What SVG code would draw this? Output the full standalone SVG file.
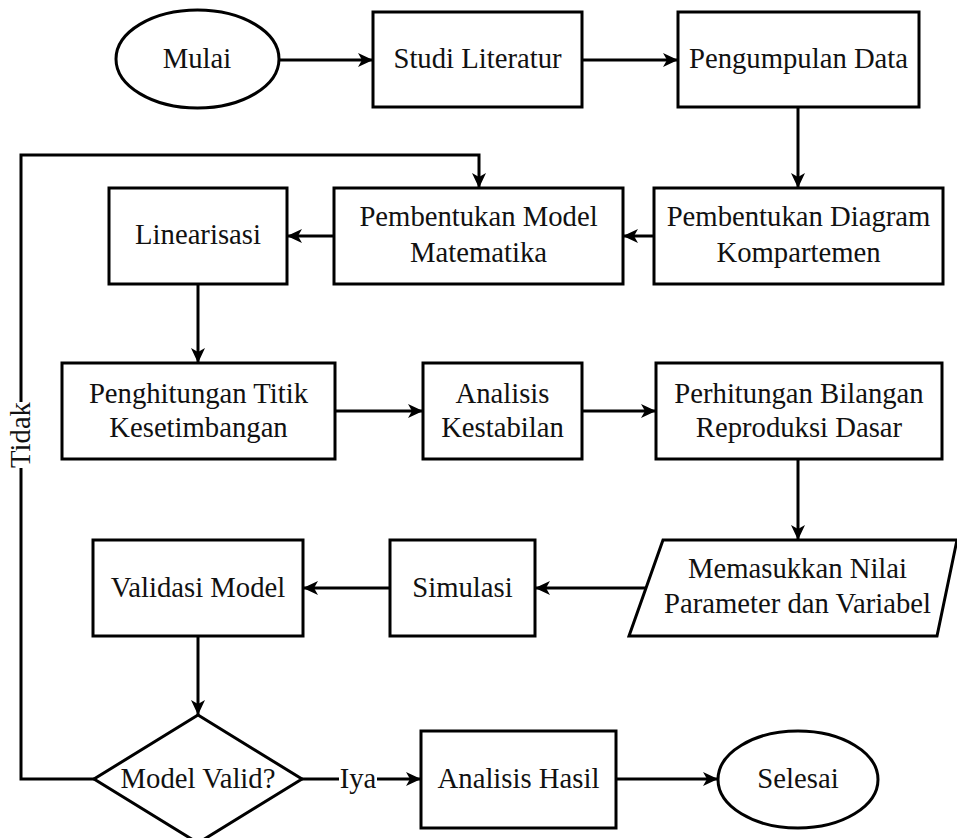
<svg xmlns="http://www.w3.org/2000/svg" width="957" height="838" viewBox="0 0 957 838">
<style>
.n{fill:#fff;stroke:#000;stroke-width:3}
.t{font-family:"Liberation Serif","Times New Roman",serif;font-size:28.7px;fill:#111;text-anchor:middle}
.c{fill:none;stroke:#000;stroke-width:3}
</style>
<defs>
<marker id="a" markerUnits="userSpaceOnUse" markerWidth="16" markerHeight="14" refX="15" refY="7" orient="auto">
<path d="M0,0 L15,7 L0,14 L4,7 Z" fill="#000"/>
</marker>
</defs>
<rect width="957" height="838" fill="#fff"/>
<g id="connectors">
<line class="c" x1="279" y1="60" x2="373" y2="60" marker-end="url(#a)"/>
<line class="c" x1="582" y1="60" x2="678" y2="60" marker-end="url(#a)"/>
<line class="c" x1="798" y1="107" x2="798" y2="188" marker-end="url(#a)"/>
<line class="c" x1="654" y1="236" x2="623" y2="236" marker-end="url(#a)"/>
<line class="c" x1="334" y1="236" x2="287" y2="236" marker-end="url(#a)"/>
<line class="c" x1="198" y1="284" x2="198" y2="363" marker-end="url(#a)"/>
<line class="c" x1="335" y1="411" x2="423" y2="411" marker-end="url(#a)"/>
<line class="c" x1="582" y1="411" x2="656" y2="411" marker-end="url(#a)"/>
<line class="c" x1="798" y1="459" x2="798" y2="540" marker-end="url(#a)"/>
<line class="c" x1="646" y1="588" x2="535" y2="588" marker-end="url(#a)"/>
<line class="c" x1="390" y1="588" x2="303" y2="588" marker-end="url(#a)"/>
<line class="c" x1="198" y1="636" x2="198" y2="715" marker-end="url(#a)"/>
<polyline class="c" points="94,779 21,779 21,155 479,155 479,188" marker-end="url(#a)"/>
<line class="c" x1="302" y1="779" x2="421" y2="779" marker-end="url(#a)"/>
<line class="c" x1="616" y1="779" x2="718" y2="779" marker-end="url(#a)"/>
<rect x="8" y="402" width="26" height="66" fill="#fff"/>
<text class="t" transform="translate(30,435) rotate(-90)">Tidak</text>
<rect x="339" y="766" width="38" height="26" fill="#fff"/>
<text class="t" x="358" y="788">Iya</text>
</g>
<g id="mulai"><ellipse class="n" cx="197.5" cy="59" rx="81.5" ry="49"/><text class="t" x="197" y="68">Mulai</text></g>
<g id="studi"><rect class="n" x="373" y="12" width="209" height="95"/><text class="t" x="477.5" y="68">Studi Literatur</text></g>
<g id="pengumpulan"><rect class="n" x="678" y="12" width="241" height="95"/><text class="t" x="798.5" y="68">Pengumpulan Data</text></g>
<g id="diagram"><rect class="n" x="654" y="188" width="289" height="96"/><text class="t" x="798.5" y="226">Pembentukan Diagram</text><text class="t" x="798.5" y="262">Kompartemen</text></g>
<g id="model"><rect class="n" x="334" y="188" width="289" height="96"/><text class="t" x="478.5" y="226">Pembentukan Model</text><text class="t" x="478.5" y="262">Matematika</text></g>
<g id="linearisasi"><rect class="n" x="109" y="188" width="178" height="96"/><text class="t" x="198" y="244">Linearisasi</text></g>
<g id="titik"><rect class="n" x="62" y="363" width="273" height="96"/><text class="t" x="198.5" y="403">Penghitungan Titik</text><text class="t" x="198.5" y="437">Kesetimbangan</text></g>
<g id="analisis"><rect class="n" x="423" y="363" width="159" height="96"/><text class="t" x="502.5" y="403">Analisis</text><text class="t" x="502.5" y="437">Kestabilan</text></g>
<g id="bilangan"><rect class="n" x="656" y="363" width="286" height="96"/><text class="t" x="799" y="403">Perhitungan Bilangan</text><text class="t" x="799" y="437">Reproduksi Dasar</text></g>
<g id="input"><polygon class="n" points="663,540 957,540 937,636 629,636"/><text class="t" x="797.5" y="578">Memasukkan Nilai</text><text class="t" x="797.5" y="613">Parameter dan Variabel</text></g>
<g id="simulasi"><rect class="n" x="390" y="540" width="145" height="96"/><text class="t" x="462.5" y="597">Simulasi</text></g>
<g id="validasi"><rect class="n" x="93" y="540" width="210" height="96"/><text class="t" x="198" y="597">Validasi Model</text></g>
<g id="decision"><polygon class="n" points="198,715 302,779 198,843 94,779"/><text class="t" x="198" y="788">Model Valid?</text></g>
<g id="hasil"><rect class="n" x="421" y="731" width="195" height="97"/><text class="t" x="518.5" y="788">Analisis Hasil</text></g>
<g id="selesai"><ellipse class="n" cx="798" cy="779.5" rx="80" ry="48.5"/><text class="t" x="798" y="788">Selesai</text></g>
</svg>
